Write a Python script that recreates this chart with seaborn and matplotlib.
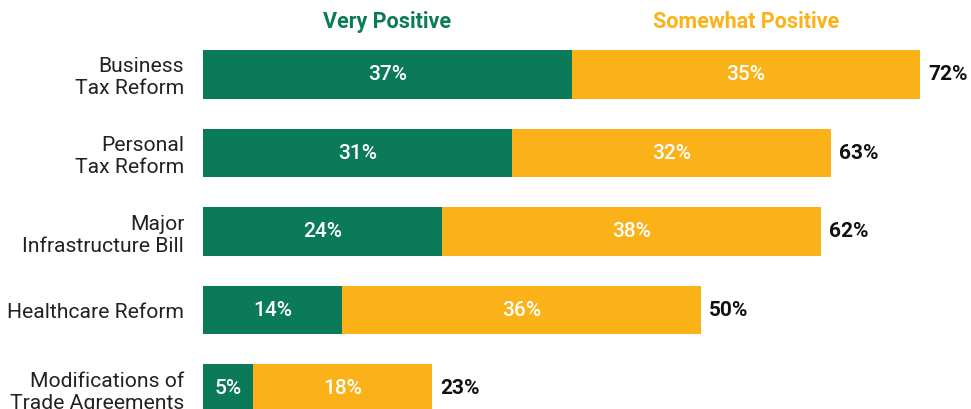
import pandas as pd
import seaborn as sns
import matplotlib.pyplot as plt

# chart data
categories = ['Business\nTax Reform', 'Personal\nTax Reform', 'Major\nInfrastructure Bill',
              'Healthcare Reform', 'Modifications of\nTrade Agreements']
very_positive = [37, 31, 24, 14, 5]
somewhat_positive = [35, 32, 38, 36, 18]
series_names = ['Very Positive', 'Somewhat Positive']

green = '#0A7A58'
yellow = '#FBB219'

df = pd.DataFrame({'category': categories,
                   'very': very_positive,
                   'somewhat': somewhat_positive})
df['total'] = df['very'] + df['somewhat']

sns.set_style('white')
plt.rcParams['font.family'] = ['Roboto', 'DejaVu Sans']

fig = plt.figure(figsize=(9.71, 4.09), dpi=100)
ax = fig.add_axes([0.209, 0.0, 0.791, 1.0])

# stacked bars: total first (yellow), then very positive on top (green)
sns.barplot(data=df, x='total', y='category', orient='h', color=yellow,
            width=0.62, saturation=1, linewidth=0, ax=ax)
sns.barplot(data=df, x='very', y='category', orient='h', color=green,
            width=0.62, saturation=1, linewidth=0, ax=ax)

ax.set_xlim(0, 77.1)
ax.set_ylim(4.261, -0.949)

for i, row in df.iterrows():
    ax.text(row['very'] / 2, i, f"{row['very']}%", ha='center', va='center',
            color='white', fontsize=15, fontweight='medium')
    ax.text(row['very'] + row['somewhat'] / 2, i, f"{row['somewhat']}%", ha='center',
            va='center', color='white', fontsize=15, fontweight='medium')
    ax.annotate(f"{row['total']}%", xy=(row['total'], i), xytext=(6, 0),
                textcoords='offset points', ha='left', va='center',
                color='#111111', fontsize=15, fontweight='bold')

# column headers above the first row
ax.text(df['very'][0] / 2, -0.67, series_names[0], ha='center', va='center',
        color=green, fontsize=15.5, fontweight='bold')
ax.text(df['very'][0] + df['somewhat'][0] / 2, -0.67, series_names[1], ha='center',
        va='center', color=yellow, fontsize=15.5, fontweight='bold')

ax.set_xlabel('')
ax.set_ylabel('')
ax.set_xticks([])
ax.tick_params(axis='y', length=0, pad=13.5, labelsize=15.2, labelcolor='#222222')
sns.despine(ax=ax, left=True, bottom=True)

fig.savefig('out.png', dpi=100)
